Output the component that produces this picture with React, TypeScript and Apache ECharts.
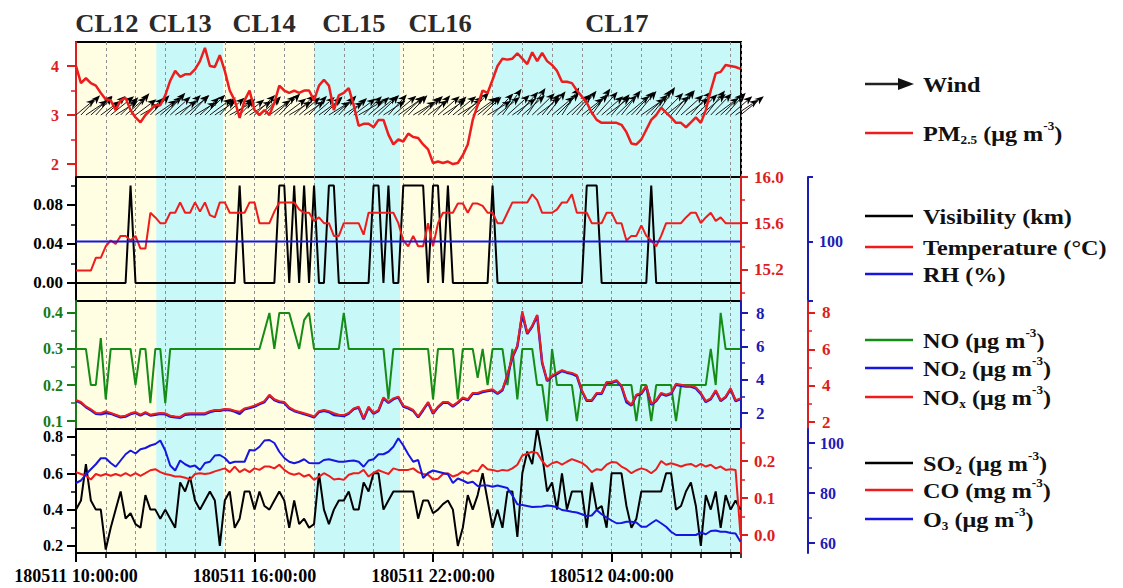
import React, { useEffect, useRef } from 'react';
import * as echarts from 'echarts';

// ---------- time base ----------
const START_DAY = 11; // 2018-05-11
const START_HOUR = 10; // 10:00
const STEP_H = 1 / 6; // 10-minute samples (hours)
const X_MAX = 22.35; // hours shown
const labelHours = [0, 6, 12, 18];

// ---------- clean-period bands ----------
const bandStart = [0, 2.7, 4.95, 8.0, 10.9, 14.0];
const bandEnd = [2.7, 4.95, 8.0, 10.9, 14.0, 22.35];
const bandKind = [0, 1, 0, 1, 0, 1];
const clLabels = ['CL12', 'CL13', 'CL14', 'CL15', 'CL16', 'CL17'];
const clLabelHour = [1.04, 3.5, 6.32, 9.34, 12.24, 18.18];

// ---------- data (10-min) ----------
const pm25 = [
  4.0, 3.65, 3.75, 3.65, 3.6, 3.45, 3.32, 3.3, 3.1, 3.3,
  3.35, 3.1, 2.95, 2.85, 3.0, 3.1, 3.2, 3.2, 3.4, 3.7,
  3.9, 3.78, 3.83, 3.83, 3.93, 4.1, 4.37, 4.0, 3.98, 4.22,
  3.9, 3.5, 3.3, 2.94, 3.3, 3.5, 3.1, 3.0, 3.1, 3.0,
  3.25, 3.6, 3.5, 3.45, 3.5, 3.45, 3.5, 3.5, 3.3, 3.6,
  3.72, 3.6, 3.1, 3.4, 3.45, 3.55, 3.2, 2.78, 2.82, 2.82,
  2.75, 2.9, 2.9, 2.6, 2.4, 2.5, 2.46, 2.62, 2.55, 2.53,
  2.4, 2.3, 2.02, 2.05, 2.02, 2.05, 2.0, 2.02, 2.18, 2.4,
  2.9, 3.2, 3.5, 3.45, 3.72, 4.0, 4.15, 4.13, 4.15, 4.26,
  4.15, 4.04, 4.28, 4.1, 4.27, 4.1, 4.02, 3.9, 3.68, 3.68,
  3.65, 3.5, 3.38, 3.25, 3.05, 2.9, 2.84, 2.84, 2.84, 2.84,
  2.8, 2.65, 2.42, 2.4, 2.5, 2.7, 2.9, 3.0, 3.15, 3.05,
  2.95, 2.84, 2.84, 2.75, 2.85, 2.95, 2.84, 3.1, 3.5, 3.85,
  3.88, 4.02, 4.0, 3.98, 3.94,
];

const windSpeed = [
  2.0, 2.2, 2.1, 2.3, 2.0, 1.9, 2.2, 2.4, 2.1, 2.0,
  2.2, 2.3, 2.1, 1.9, 2.0, 2.2, 2.1, 2.3, 2.4, 2.2,
  2.1, 2.3, 2.5, 2.2, 2.0, 2.1, 2.3, 2.2, 2.0, 1.9,
  2.1, 2.2, 2.0, 1.8, 2.0, 2.1, 2.3, 2.2, 2.0, 2.1,
  2.3, 2.4, 2.2, 2.1, 2.3, 2.2, 2.0, 2.1, 2.2, 2.3,
  2.1, 2.0, 2.2, 2.1, 1.9, 2.0, 2.2, 2.3, 2.1, 2.2,
  2.4, 2.3, 2.1, 2.2, 2.4, 2.5, 2.3, 2.2, 2.1, 2.3,
  2.2, 2.0, 2.1, 2.3, 2.2, 2.1, 2.4, 2.3, 2.2, 2.5,
  2.4, 2.3, 2.1, 2.2, 2.4, 2.3, 2.6, 2.4, 2.3, 2.5,
  2.4, 2.6, 2.5, 2.3, 2.2, 2.4, 2.3, 2.5, 2.6, 2.4,
  2.3, 2.5, 2.2, 2.4, 2.6, 2.5, 2.3, 2.4, 2.2, 2.3,
  2.5, 2.4, 2.6, 2.5, 2.3, 2.4, 2.6, 2.7, 2.5, 2.4,
  2.6, 2.5, 2.4, 2.3, 2.5, 2.4, 2.6, 2.5, 2.4, 2.3,
  2.5, 2.4, 2.3, 2.2, 2.4,
];

const windDir = [
  230, 224, 236, 228, 222, 234, 226, 231, 238, 225,
  229, 221, 233, 240, 227, 224, 235, 230, 222, 228,
  237, 226, 231, 223, 239, 228, 225, 233, 236, 222,
  229, 241, 227, 224, 232, 238, 226, 230, 221, 235,
  228, 224, 233, 239, 226, 230, 236, 223, 229, 234,
  225, 238, 231, 222, 236, 227, 233, 240, 224, 229,
  231, 226, 237, 222, 230, 235, 228, 224, 239, 232,
  226, 233, 221, 229, 236, 225, 231, 238, 227, 223,
  234, 230, 226, 239, 224, 231, 216, 228, 235, 222,
  229, 214, 226, 233, 220, 218, 230, 225, 212, 228,
  224, 219, 232, 226, 215, 222, 229, 233, 221, 226,
  218, 230, 224, 220, 235, 227, 219, 214, 225, 231,
  222, 217, 228, 234, 221, 226, 230, 218, 224, 233,
  227, 222, 229, 236, 231,
];

const visibility = [
  0, 0, 0, 0, 0, 0, 0, 0, 0, 0,
  0, 0.1, 0, 0, 0, 0, 0, 0, 0, 0,
  0, 0, 0, 0, 0, 0, 0, 0, 0, 0,
  0, 0, 0, 0.1, 0, 0, 0, 0, 0, 0,
  0, 0.1, 0.1, 0, 0.1, 0, 0.1, 0, 0.1, 0,
  0, 0.1, 0.1, 0, 0, 0, 0, 0, 0, 0,
  0.1, 0.1, 0, 0.1, 0, 0, 0.1, 0.1, 0.1, 0.1,
  0.1, 0, 0.1, 0.1, 0, 0.1, 0, 0, 0, 0,
  0, 0, 0, 0, 0.1, 0, 0, 0, 0, 0,
  0, 0, 0, 0, 0, 0, 0, 0, 0, 0,
  0, 0, 0, 0.1, 0.1, 0.1, 0, 0, 0, 0,
  0, 0, 0, 0, 0, 0, 0.1, 0, 0, 0,
  0, 0, 0, 0, 0, 0, 0, 0, 0, 0,
  0, 0, 0, 0, 0,
];

const temperature = [
  15.19, 15.19, 15.19, 15.19, 15.3, 15.3, 15.4, 15.45, 15.42, 15.49,
  15.49, 15.45, 15.49, 15.38, 15.38, 15.69, 15.65, 15.6, 15.6, 15.69,
  15.69, 15.78, 15.69, 15.69, 15.78, 15.7, 15.78, 15.67, 15.65, 15.78,
  15.78, 15.69, 15.69, 15.69, 15.69, 15.78, 15.78, 15.6, 15.6, 15.6,
  15.7, 15.78, 15.78, 15.78, 15.78, 15.72, 15.69, 15.69, 15.62, 15.65,
  15.6, 15.6, 15.49, 15.49, 15.6, 15.6, 15.6, 15.6, 15.5, 15.69,
  15.69, 15.69, 15.69, 15.69, 15.69, 15.6, 15.45, 15.4, 15.49, 15.4,
  15.4, 15.6, 15.4, 15.6, 15.69, 15.69, 15.69, 15.77, 15.77, 15.69,
  15.77, 15.77, 15.75, 15.69, 15.69, 15.6, 15.6, 15.69, 15.78, 15.78,
  15.78, 15.78, 15.85, 15.8, 15.69, 15.69, 15.69, 15.72, 15.78, 15.78,
  15.85, 15.69, 15.69, 15.69, 15.6, 15.6, 15.6, 15.69, 15.69, 15.6,
  15.6, 15.45, 15.49, 15.49, 15.58, 15.49, 15.45, 15.4, 15.49, 15.6,
  15.6, 15.6, 15.6, 15.65, 15.69, 15.69, 15.6, 15.65, 15.69, 15.62,
  15.65, 15.6, 15.6, 15.6, 15.6,
];

const rh = [
  100, 100, 100, 100, 100, 100, 100, 100, 100, 100,
  100, 100, 100, 100, 100, 100, 100, 100, 100, 100,
  100, 100, 100, 100, 100, 100, 100, 100, 100, 100,
  100, 100, 100, 100, 100, 100, 100, 100, 100, 100,
  100, 100, 100, 100, 100, 100, 100, 100, 100, 100,
  100, 100, 100, 100, 100, 100, 100, 100, 100, 100,
  100, 100, 100, 100, 100, 100, 100, 100, 100, 100,
  100, 100, 100, 100, 100, 100, 100, 100, 100, 100,
  100, 100, 100, 100, 100, 100, 100, 100, 100, 100,
  100, 100, 100, 100, 100, 100, 100, 100, 100, 100,
  100, 100, 100, 100, 100, 100, 100, 100, 100, 100,
  100, 100, 100, 100, 100, 100, 100, 100, 100, 100,
  100, 100, 100, 100, 100, 100, 100, 100, 100, 100,
  100, 100, 100, 100, 100,
];

const no = [
  0.3, 0.3, 0.3, 0.2, 0.2, 0.33, 0.16, 0.3, 0.3, 0.3,
  0.3, 0.3, 0.2, 0.3, 0.3, 0.15, 0.3, 0.3, 0.15, 0.3,
  0.3, 0.3, 0.3, 0.3, 0.3, 0.3, 0.3, 0.3, 0.3, 0.3,
  0.3, 0.3, 0.3, 0.3, 0.3, 0.3, 0.3, 0.3, 0.35, 0.4,
  0.3, 0.4, 0.4, 0.4, 0.35, 0.3, 0.38, 0.4, 0.3, 0.3,
  0.3, 0.3, 0.3, 0.3, 0.4, 0.3, 0.3, 0.3, 0.3, 0.3,
  0.3, 0.3, 0.3, 0.16, 0.3, 0.3, 0.3, 0.3, 0.3, 0.3,
  0.3, 0.3, 0.16, 0.3, 0.3, 0.3, 0.3, 0.16, 0.3, 0.3,
  0.3, 0.22, 0.3, 0.2, 0.3, 0.3, 0.3, 0.2, 0.3, 0.16,
  0.3, 0.3, 0.3, 0.2, 0.2, 0.1, 0.3, 0.2, 0.2, 0.2,
  0.2, 0.1, 0.2, 0.2, 0.2, 0.2, 0.2, 0.2, 0.2, 0.2,
  0.2, 0.2, 0.2, 0.1, 0.2, 0.2, 0.1, 0.2, 0.2, 0.2,
  0.2, 0.1, 0.2, 0.2, 0.2, 0.2, 0.2, 0.2, 0.3, 0.2,
  0.4, 0.3, 0.3, 0.3, 0.3,
];

const no2 = [
  2.73, 2.61, 2.35, 2.17, 1.96, 1.93, 2.0, 1.96, 1.85, 1.74,
  1.79, 1.93, 2.01, 1.85, 2.01, 1.85, 1.9, 1.96, 1.93, 1.79,
  1.74, 1.72, 1.9, 1.93, 1.93, 1.93, 1.93, 2.06, 2.13, 2.13,
  2.19, 2.17, 2.09, 1.95, 2.23, 2.3, 2.39, 2.53, 2.66, 3.05,
  2.77, 2.66, 2.61, 2.28, 2.12, 2.02, 1.93, 1.85, 1.74, 2.06,
  2.13, 2.06, 1.88, 1.85, 1.82, 1.96, 2.23, 2.33, 1.63, 2.33,
  1.96, 2.13, 2.88, 2.61, 2.83, 2.94, 2.39, 2.28, 2.13, 1.74,
  2.17, 2.61, 1.96, 2.34, 2.61, 2.61, 2.39, 2.61, 2.88, 2.77,
  3.15, 3.15, 3.26, 3.32, 3.37, 3.15, 3.37, 4.24, 5.33, 5.99,
  7.95, 6.75, 7.19, 7.84, 5.01, 3.92, 4.19, 4.35, 4.52, 4.42,
  4.35, 4.22, 3.32, 2.73, 2.73, 3.15, 3.15, 3.81, 3.81, 3.92,
  3.59, 2.65, 2.45, 3.05, 3.15, 3.59, 2.5, 2.72, 3.15, 3.05,
  3.15, 3.7, 3.64, 3.59, 3.59, 3.48, 3.15, 2.66, 2.83, 3.32,
  2.72, 2.94, 3.43, 2.72, 2.83,
];

const nox = [
  3.21, 3.1, 2.86, 2.7, 2.5, 2.48, 2.6, 2.5, 2.4, 2.3,
  2.35, 2.48, 2.55, 2.4, 2.55, 2.4, 2.45, 2.5, 2.48, 2.35,
  2.3, 2.28, 2.45, 2.48, 2.48, 2.48, 2.48, 2.6, 2.66, 2.66,
  2.72, 2.7, 2.62, 2.56, 2.75, 2.82, 2.9, 3.03, 3.15, 3.5,
  3.25, 3.15, 3.1, 2.8, 2.65, 2.56, 2.48, 2.4, 2.3, 2.6,
  2.66, 2.6, 2.48, 2.4, 2.38, 2.5, 2.75, 2.84, 2.2, 2.84,
  2.5, 2.66, 3.35, 3.1, 3.3, 3.4, 2.9, 2.8, 2.66, 2.3,
  2.7, 3.1, 2.5, 2.85, 3.1, 3.1, 2.9, 3.1, 3.35, 3.25,
  3.6, 3.6, 3.7, 3.75, 3.8, 3.6, 3.8, 4.6, 5.6, 6.2,
  8.1, 6.9, 7.3, 7.9, 5.3, 4.3, 4.55, 4.7, 4.85, 4.76,
  4.7, 4.58, 3.75, 3.21, 3.21, 3.6, 3.6, 4.2, 4.2, 4.3,
  4.0, 3.2, 2.95, 3.5, 3.6, 4.0, 3.0, 3.2, 3.6, 3.5,
  3.6, 4.1, 4.05, 4.0, 4.0, 3.9, 3.6, 3.15, 3.3, 3.75,
  3.2, 3.4, 3.85, 3.2, 3.3,
];

const so2 = [
  0.4, 0.45, 0.65, 0.45, 0.4, 0.4, 0.18, 0.3, 0.4, 0.5,
  0.35, 0.38, 0.32, 0.3, 0.48, 0.4, 0.4, 0.35, 0.4, 0.35,
  0.3, 0.55, 0.5, 0.58, 0.45, 0.4, 0.45, 0.5, 0.45, 0.2,
  0.45, 0.5, 0.3, 0.35, 0.5, 0.5, 0.4, 0.5, 0.42, 0.4,
  0.45, 0.5, 0.45, 0.3, 0.45, 0.32, 0.35, 0.3, 0.32, 0.6,
  0.4, 0.32, 0.4, 0.45, 0.45, 0.5, 0.4, 0.4, 0.55, 0.5,
  0.6, 0.6, 0.4, 0.45, 0.5, 0.5, 0.5, 0.5, 0.5, 0.35,
  0.45, 0.45, 0.38, 0.4, 0.43, 0.45, 0.4, 0.2, 0.3, 0.48,
  0.4, 0.48, 0.6, 0.45, 0.3, 0.4, 0.3, 0.5, 0.5, 0.25,
  0.6, 0.72, 0.65, 0.85, 0.7, 0.5, 0.55, 0.4, 0.6, 0.4,
  0.5, 0.5, 0.5, 0.3, 0.55, 0.4, 0.42, 0.3, 0.6, 0.6,
  0.6, 0.42, 0.3, 0.35, 0.5, 0.5, 0.5, 0.5, 0.5, 0.6,
  0.6, 0.4, 0.42, 0.5, 0.55, 0.42, 0.2, 0.48, 0.4, 0.5,
  0.3, 0.48, 0.4, 0.45, 0.4,
];

const co = [
  0.17, 0.165, 0.16, 0.15, 0.165, 0.16, 0.165, 0.16, 0.165, 0.16,
  0.167, 0.16, 0.167, 0.16, 0.167, 0.175, 0.178, 0.17, 0.165, 0.162,
  0.158, 0.158, 0.155, 0.15, 0.165, 0.167, 0.165, 0.167, 0.172, 0.176,
  0.18, 0.17, 0.185, 0.17, 0.178, 0.17, 0.18, 0.176, 0.185, 0.185,
  0.18, 0.19, 0.176, 0.167, 0.163, 0.167, 0.158, 0.163, 0.149, 0.158,
  0.167, 0.16, 0.15, 0.152, 0.149, 0.163, 0.167, 0.167, 0.176, 0.158,
  0.168, 0.175, 0.17, 0.165, 0.18, 0.176, 0.176, 0.176, 0.18, 0.17,
  0.165, 0.163, 0.15, 0.152, 0.165, 0.167, 0.158, 0.163, 0.172, 0.165,
  0.175, 0.172, 0.19, 0.178, 0.176, 0.172, 0.176, 0.174, 0.18, 0.19,
  0.215, 0.22, 0.225, 0.222, 0.2, 0.185, 0.194, 0.198, 0.19, 0.198,
  0.205, 0.2, 0.195, 0.185, 0.17, 0.178, 0.176, 0.19, 0.197, 0.196,
  0.185, 0.178, 0.167, 0.175, 0.18, 0.176, 0.167, 0.178, 0.2, 0.19,
  0.194, 0.19, 0.185, 0.19, 0.192, 0.185, 0.192, 0.185, 0.19, 0.18,
  0.185, 0.176, 0.178, 0.176, 0.0,
];

const o3 = [
  84, 85, 87.5, 89.5, 91.5, 93.9, 93.9, 92, 90.5, 93,
  95.5, 97, 95.8, 97.5, 98, 99, 99.6, 101, 97, 91,
  89, 93, 91.5, 90.5, 91, 89.2, 92, 92.5, 95, 95.2,
  94, 91.9, 92.5, 92.5, 92.5, 97.2, 97, 98.5, 101, 101.2,
  100, 96.5, 94, 92.5, 91.9, 92.5, 93.5, 92, 91.9, 91.9,
  93.2, 93.5, 93, 92.5, 92.5, 92.8, 93, 92.5, 90.5, 93,
  93.5, 95.5, 95.5, 96.5, 98.5, 101.9, 99, 95.5, 92.5, 93.2,
  86, 88, 89, 88.5, 88, 87.5, 84, 85.8, 85, 84,
  84.5, 82.8, 83, 83, 82.5, 83, 82.5, 82, 79, 75.5,
  75.2, 74.8, 74.4, 74.5, 74.6, 75, 74.8, 74.3, 73.2, 72.9,
  72.5, 72.2, 71.5, 70.8, 71, 73.2, 71.5, 70.2, 69, 67.9,
  68, 68.5, 68.5, 68.2, 66.5, 66.5, 67.9, 69.2, 67.9, 66.5,
  64.5, 63.2, 63.2, 63.2, 63.2, 63.2, 64.2, 63.5, 64.8, 65,
  64.5, 64.5, 64, 63.8, 60.5,
];

// ---------- axis ticks ----------
const pmTicks = [2, 3, 4];
const pmMinor = [2.5, 3.5];
const visTicks = [0, 0.04, 0.08];
const visMinor = [0.02, 0.06, 0.1];
const tempTicks = [15.2, 15.6, 16.0];
const tempMinor = [15.0, 15.4, 15.8];
const rhTicks = [88, 100, 113];
const rhLabels = [100];
const noTicks = [0.1, 0.2, 0.3, 0.4];
const noMinor = [0.15, 0.25, 0.35];
const no2Ticks = [2, 4, 6, 8];
const no2Minor = [3, 5, 7];
const noxTicks = [2, 4, 6, 8];
const noxMinor = [3, 5, 7];
const so2Ticks = [0.2, 0.4, 0.6, 0.8];
const so2Minor = [0.3, 0.5, 0.7];
const coTicks = [0, 0.1, 0.2];
const coMinor = [0.05, 0.15, 0.25];
const o3Ticks = [60, 80, 100];
const o3Minor = [70, 90];

// ---------- styles ----------
const FONT = "'Liberation Serif', 'Times New Roman', serif";
const RED = '#ee1c1c';
const BLUE = '#1616e0';
const GREEN = '#158c15';
const BLACK = '#000000';
const RED_T = '#dc1e1e';
const BLUE_T = '#1c1cb4';
const GREEN_T = '#167a16';
const YELLOW = '#fffde2';
const CYAN = '#c8f8f8';

const pad = (n: number) => (n < 10 ? '0' + n : String(n));
const fmtTime = (v: number) => {
  if (Math.abs(v % 6) > 1e-6) return '';
  const t = START_HOUR + v;
  const day = START_DAY + Math.floor(t / 24);
  const hh = Math.round(t % 24);
  return `1805${pad(day)} ${pad(hh)}:00:00`;
};

const toPairs = (arr: number[]) => arr.map((v, i) => [i * STEP_H, v]);

function yMajor(gridIndex: number, position: string, offset: number, min: number, max: number, color: string,
  ticks: number[], labels: number[], fmt: (v: number) => string, tickLen: number, margin: number, fontSize = 17) {
  return {
    type: 'value', gridIndex, position, offset, min, max, z: 3,
    axisLine: { show: true, onZero: false, lineStyle: { color, width: 2 } },
    axisTick: { show: true, inside: false, length: tickLen, customValues: ticks, lineStyle: { color, width: 2 } },
    axisLabel: {
      show: true, customValues: labels, formatter: fmt, color,
      fontFamily: FONT, fontWeight: 'bold', fontSize, margin, lineHeight: fontSize - 2,
    },
    splitLine: { show: false },
  };
}

function yMinor(gridIndex: number, position: string, offset: number, min: number, max: number, color: string,
  ticks: number[], tickLen: number) {
  return {
    type: 'value', gridIndex, position, offset, min, max, z: 3,
    axisLine: { show: false, onZero: false },
    axisTick: { show: true, inside: false, length: tickLen, customValues: ticks, lineStyle: { color, width: 1.5 } },
    axisLabel: { show: false },
    splitLine: { show: false },
  };
}

function xAxisFor(gridIndex: number, bottom: boolean) {
  return {
    type: 'value', gridIndex, min: 0, max: X_MAX, interval: 1, position: 'bottom', z: 2,
    axisLine: { show: bottom, onZero: false, lineStyle: { color: BLACK, width: 2 } },
    axisTick: { show: bottom, length: 5, lineStyle: { color: BLACK, width: 1.5 } },
    axisLabel: bottom
      ? {
        show: true, customValues: labelHours, formatter: fmtTime, color: BLACK,
        fontFamily: FONT, fontWeight: 'bold', fontSize: 18, margin: 14,
      }
      : { show: false },
    splitLine: { show: true, lineStyle: { color: '#8f8f8f', width: 1, type: [3, 3] } },
  };
}

const bandData = bandStart.map((s, k) => [s, bandEnd[k], bandKind[k]]);

function bandSeries(xAxisIndex: number, yAxisIndex: number) {
  return {
    type: 'custom', xAxisIndex, yAxisIndex, z: 1, silent: true,
    data: bandData,
    encode: { x: [0, 1] },
    renderItem: (params: any, api: any) => {
      const cs = params.coordSys;
      const x0 = api.coord([api.value(0), api.value(0)])[0];
      const x1 = api.coord([api.value(1), api.value(0)])[0];
      return {
        type: 'rect',
        shape: { x: x0, y: cs.y, width: x1 - x0, height: cs.height },
        style: { fill: api.value(2) ? CYAN : YELLOW },
      };
    },
  };
}

function lineSeries(name: string, data: number[], xAxisIndex: number, yAxisIndex: number, color: string, width = 2, z = 5) {
  return {
    name, type: 'line', xAxisIndex, yAxisIndex, data: toPairs(data),
    showSymbol: false, symbol: 'none', z,
    lineStyle: { color, width }, itemStyle: { color },
  };
}

const windData = windSpeed.map((s, i) => [i * STEP_H, s, windDir[i]]);

function buildOption() {
  const gridBase = { left: 76, right: 382, show: true, z: 2, borderColor: BLACK, borderWidth: 2, backgroundColor: 'transparent' };
  const grid = [
    { ...gridBase, top: 42, height: 135 },
    { ...gridBase, top: 177, height: 124 },
    { ...gridBase, top: 301, height: 128 },
    { ...gridBase, top: 429, height: 124 },
  ];
  const f0 = (v: number) => String(v);
  const f1 = (v: number) => v.toFixed(1);
  const f2 = (v: number) => v.toFixed(2);

  const yAxis = [
    /*0*/ yMajor(0, 'left', 0, 1.735, 4.49, RED_T, pmTicks, pmTicks, f0, 9, 17, 16),
    /*1*/ yMajor(1, 'left', 0, -0.0185, 0.1087, BLACK, visTicks, visTicks, f2, 9, 13),
    /*2*/ yMinor(1, 'left', 0, -0.0185, 0.1087, BLACK, visMinor, 5),
    /*3*/ yMajor(1, 'right', 0, 14.926, 16.0, RED_T, tempTicks, tempTicks, f1, 7, 13),
    /*4*/ yMinor(1, 'right', 0, 14.926, 16.0, RED_T, tempMinor, 4),
    /*5*/ yMajor(1, 'right', 67, 88, 113, BLUE_T, rhTicks, rhLabels, f0, 5, 11, 16),
    /*6*/ yMajor(2, 'left', 0, 0.078, 0.433, GREEN_T, noTicks, noTicks, f1, 9, 13, 16),
    /*7*/ yMinor(2, 'left', 0, 0.078, 0.433, GREEN_T, noMinor, 5),
    /*8*/ yMajor(2, 'right', 0, 1.04, 8.72, BLUE_T, no2Ticks, no2Ticks, f0, 7, 15),
    /*9*/ yMinor(2, 'right', 0, 1.04, 8.72, BLUE_T, no2Minor, 4),
    /*10*/ yMajor(2, 'right', 67, 1.615, 8.66, RED_T, noxTicks, noxTicks, f0, 7, 14),
    /*11*/ yMinor(2, 'right', 67, 1.615, 8.66, RED_T, noxMinor, 4),
    /*12*/ yMajor(3, 'left', 0, 0.161, 0.844, BLACK, so2Ticks, so2Ticks, f1, 9, 13, 16),
    /*13*/ yMinor(3, 'left', 0, 0.161, 0.844, BLACK, so2Minor, 5),
    /*14*/ yMajor(3, 'right', 0, -0.0486, 0.2865, RED_T, coTicks, coTicks, f1, 7, 13),
    /*15*/ yMinor(3, 'right', 0, -0.0486, 0.2865, RED_T, coMinor, 4),
    /*16*/ yMajor(3, 'right', 67, 56, 105.6, BLUE_T, o3Ticks, o3Ticks, f0, 7, 12, 16),
    /*17*/ yMinor(3, 'right', 67, 56, 105.6, BLUE_T, o3Minor, 4),
    /*18*/ yMinor(0, 'left', 0, 1.735, 4.49, RED_T, pmMinor, 5),
  ];

  const xAxis = [
    xAxisFor(0, false),
    xAxisFor(1, false),
    xAxisFor(2, false),
    xAxisFor(3, true),
    {
      type: 'value', gridIndex: 3, min: 0, max: X_MAX, position: 'bottom', z: 2,
      axisLine: { show: false, onZero: false },
      axisTick: { show: true, length: 9, customValues: labelHours, lineStyle: { color: BLACK, width: 2 } },
      axisLabel: { show: false },
      splitLine: { show: false },
    },
  ];

  const series: any[] = [
    bandSeries(0, 0),
    {
      name: 'Wind', type: 'custom', xAxisIndex: 0, yAxisIndex: 0, z: 4, clip: false, silent: true,
      data: windData,
      encode: { x: 0, y: 1 },
      renderItem: (params: any, api: any) => {
        const base = api.coord([api.value(0), 3]);
        const spd = api.value(1);
        const to = ((api.value(2) + 180) * Math.PI) / 180;
        const ux = Math.sin(to);
        const uy = -Math.cos(to);
        const L = spd * 12.5;
        const ex = base[0] + ux * L;
        const ey = base[1] + uy * L;
        const hl = 9;
        const hw = 3.6;
        const bx = ex - ux * hl;
        const by = ey - uy * hl;
        const px = -uy;
        const py = ux;
        return {
          type: 'group',
          children: [
            { type: 'line', shape: { x1: base[0], y1: base[1], x2: bx + ux * 2, y2: by + uy * 2 }, style: { stroke: '#1a1a1a', lineWidth: 1 } },
            {
              type: 'polygon',
              shape: { points: [[ex, ey], [bx + px * hw, by + py * hw], [bx + ux * 2.5, by + uy * 2.5], [bx - px * hw, by - py * hw]] },
              style: { fill: '#000' },
            },
          ],
        };
      },
    },
    lineSeries('PM2.5', pm25, 0, 0, RED, 2.5, 6),

    bandSeries(1, 1),
    lineSeries('Visibility', visibility, 1, 1, BLACK, 2),
    lineSeries('Temperature', temperature, 1, 3, RED, 2),
    lineSeries('RH', rh, 1, 5, BLUE, 2),

    bandSeries(2, 6),
    lineSeries('NO', no, 2, 6, GREEN, 2),
    lineSeries('NO2', no2, 2, 8, BLUE, 2.5),
    lineSeries('NOx', nox, 2, 10, RED, 2),

    bandSeries(3, 12),
    lineSeries('SO2', so2, 3, 12, BLACK, 2),
    lineSeries('CO', co, 3, 14, RED, 2),
    lineSeries('O3', o3, 3, 16, BLUE, 2),
  ];

  return {
    animation: false,
    backgroundColor: '#ffffff',
    grid,
    xAxis,
    yAxis,
    series,
  };
}

const RICH = {
  a: { fontFamily: FONT, fontWeight: 'bold', fontSize: 22, fill: '#111', lineHeight: 26 },
  s: { fontFamily: FONT, fontWeight: 'bold', fontSize: 12, fill: '#111', verticalAlign: 'bottom', lineHeight: 11 },
  p: { fontFamily: FONT, fontWeight: 'bold', fontSize: 12, fill: '#111', verticalAlign: 'top', lineHeight: 12 },
};

const legendEntries = [
  { y: 84, arrow: true, color: BLACK, text: '{a|Wind}' },
  { y: 133, color: RED, text: '{a|PM}{s|2.5}{a| (μg m}{p|-3}{a|)}' },
  { y: 216, color: BLACK, text: '{a|Visibility (km)}' },
  { y: 247, color: RED, text: '{a|Temperature (°C)}' },
  { y: 274, color: BLUE, text: '{a|RH (%)}' },
  { y: 340, color: GREEN, text: '{a|NO (μg m}{p|-3}{a|)}' },
  { y: 368, color: BLUE, text: '{a|NO}{s|2}{a| (μg m}{p|-3}{a|)}' },
  { y: 397, color: RED, text: '{a|NO}{s|x}{a| (μg m}{p|-3}{a|)}' },
  { y: 463, color: BLACK, text: '{a|SO}{s|2}{a| (μg m}{p|-3}{a|)}' },
  { y: 490, color: RED, text: '{a|CO (mg m}{p|-3}{a|)}' },
  { y: 519, color: BLUE, text: '{a|O}{s|3}{a| (μg m}{p|-3}{a|)}' },
];

function buildGraphic(clX: number[]) {
  const els: any[] = [];
  clLabels.forEach((t, k) => {
    els.push({
      type: 'text', x: clX[k], y: 24, z: 10, scaleX: 1.06,
      style: {
        text: t, font: `bold 25px ${FONT}`, fill: '#2a2a2a',
        textAlign: 'center', textVerticalAlign: 'middle',
      },
    });
  });
  legendEntries.forEach((e) => {
    if (e.arrow) {
      els.push({ type: 'line', z: 10, shape: { x1: 865, y1: e.y, x2: 900, y2: e.y }, style: { stroke: '#222', lineWidth: 2.5 } });
      els.push({ type: 'polygon', z: 10, shape: { points: [[898, e.y - 6], [914, e.y], [898, e.y + 6]] }, style: { fill: '#111' } });
    } else {
      els.push({ type: 'line', z: 10, shape: { x1: 865, y1: e.y, x2: 913, y2: e.y }, style: { stroke: e.color, lineWidth: 2.5 } });
    }
    els.push({
      type: 'text', x: 923, y: e.y, z: 10, scaleX: 1.1,
      style: {
        text: e.text, rich: RICH, font: `bold 22px ${FONT}`, fill: '#111',
        textAlign: 'left', textVerticalAlign: 'middle',
      },
    });
  });
  return els;
}

export default function App() {
  const ref = useRef<HTMLDivElement>(null);
  useEffect(() => {
    if (!ref.current) return;
    const chart = echarts.init(ref.current, null, { renderer: 'svg' });
    chart.setOption(buildOption() as any);
    const clX = clLabelHour.map((h) => chart.convertToPixel({ xAxisIndex: 0 } as any, h) as number);
    chart.setOption({ graphic: { elements: buildGraphic(clX) } } as any);
    return () => chart.dispose();
  }, []);
  return (
    <div
      ref={ref}
      style={{ position: 'absolute', left: 0, top: 0, width: 1123, height: 588, background: '#fff' }}
    />
  );
}
